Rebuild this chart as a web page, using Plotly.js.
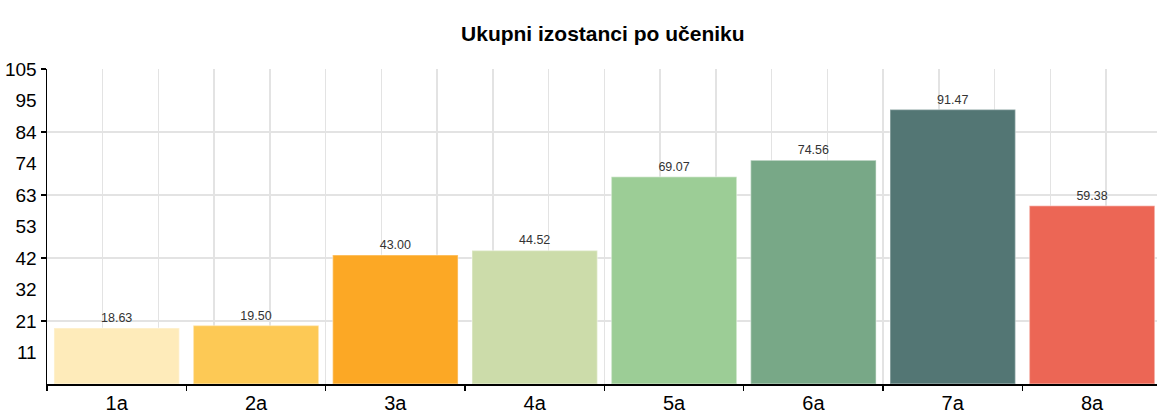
<!DOCTYPE html>
<html>
<head>
<meta charset="utf-8">
<script src="https://cdn.plot.ly/plotly-3.0.1.min.js"></script>
<style>html,body{margin:0;padding:0;background:#fff;}#chart{width:1157px;height:417px;}</style>
</head>
<body>
<div id="chart"></div>
<script>
const categories = ["1a", "2a", "3a", "4a", "5a", "6a", "7a", "8a"];
const values = [18.63, 19.50, 43.00, 44.52, 69.07, 74.56, 91.47, 59.38];
const barColors = ["#FEEBBA", "#FDC955", "#FCA825", "#CCDCAA", "#9CCD96", "#78A887", "#537674", "#EC6655"];
const yTickVals = [10.5, 21, 31.5, 42, 52.5, 63, 73.5, 84, 94.5, 105];
const yTickText = ["11", "21", "32", "42", "53", "63", "74", "84", "95", "105"];
const yMajorVals = [21, 42, 63, 84, 105];
const titleText = "Ukupni izostanci po učeniku";

const FONT = "'Liberation Sans', Arial, sans-serif";

const traces = [
  {
    type: "bar",
    x: categories,
    y: values,
    marker: {color: barColors, line: {color: "rgba(255,255,255,0.35)", width: 1.5}},
    texttemplate: "%{y:.2f}",
    textposition: "outside",
    textfont: {family: FONT, size: 12.5, color: "#333"},
    cliponaxis: false,
    hoverinfo: "x+y",
    xaxis: "x",
    yaxis: "y"
  },
  {type: "scatter", x: [], y: [], xaxis: "x2", yaxis: "y2", showlegend: false, hoverinfo: "skip"}
];

const xRange = [-0.5, 7.466];
const yRange = [0, 105];

const layout = {
  width: 1157,
  height: 417,
  margin: {l: 47, r: 0, t: 69, b: 33},
  paper_bgcolor: "#fff",
  plot_bgcolor: "rgba(0,0,0,0)",
  showlegend: false,
  bargap: 0.1,
  title: {
    text: "<b>" + titleText + "</b>",
    font: {family: FONT, size: 21, color: "#000"},
    x: 0.521, xanchor: "center",
    y: 0.92, yref: "container", yanchor: "middle"
  },
  xaxis: {
    type: "category",
    range: xRange,
    showline: true, linecolor: "#000", linewidth: 1.5,
    ticks: "outside", tickson: "boundaries", ticklen: 5, tickcolor: "#000", tickwidth: 1.5,
    showgrid: false, zeroline: false,
    tickfont: {family: FONT, size: 20, color: "#000"}
  },
  yaxis: {
    range: yRange,
    tickmode: "array", tickvals: yTickVals, ticktext: yTickText,
    ticks: "outside", ticklen: 5, tickcolor: "rgba(0,0,0,0)",
    showline: true, linecolor: "#000", linewidth: 1.5,
    showgrid: false, zeroline: false,
    tickfont: {family: FONT, size: 19, color: "#000"}
  },
  xaxis2: {
    overlaying: "x", anchor: "y2",
    type: "linear", range: xRange,
    tickmode: "linear", tick0: -0.5, dtick: 0.4,
    showgrid: true, gridcolor: "#e3e3e3", gridwidth: 1.5,
    showticklabels: false, ticks: "", zeroline: false, showline: false
  },
  yaxis2: {
    overlaying: "y", anchor: "x2", side: "left",
    range: yRange,
    tickmode: "array", tickvals: yMajorVals,
    showgrid: true, gridcolor: "#e3e3e3", gridwidth: 1.5,
    showticklabels: false, ticks: "outside", ticklen: 5, tickcolor: "#000", tickwidth: 1.5,
    zeroline: false, showline: false
  }
};

Plotly.newPlot("chart", traces, layout, {displayModeBar: false, staticPlot: true});
</script>
</body>
</html>
